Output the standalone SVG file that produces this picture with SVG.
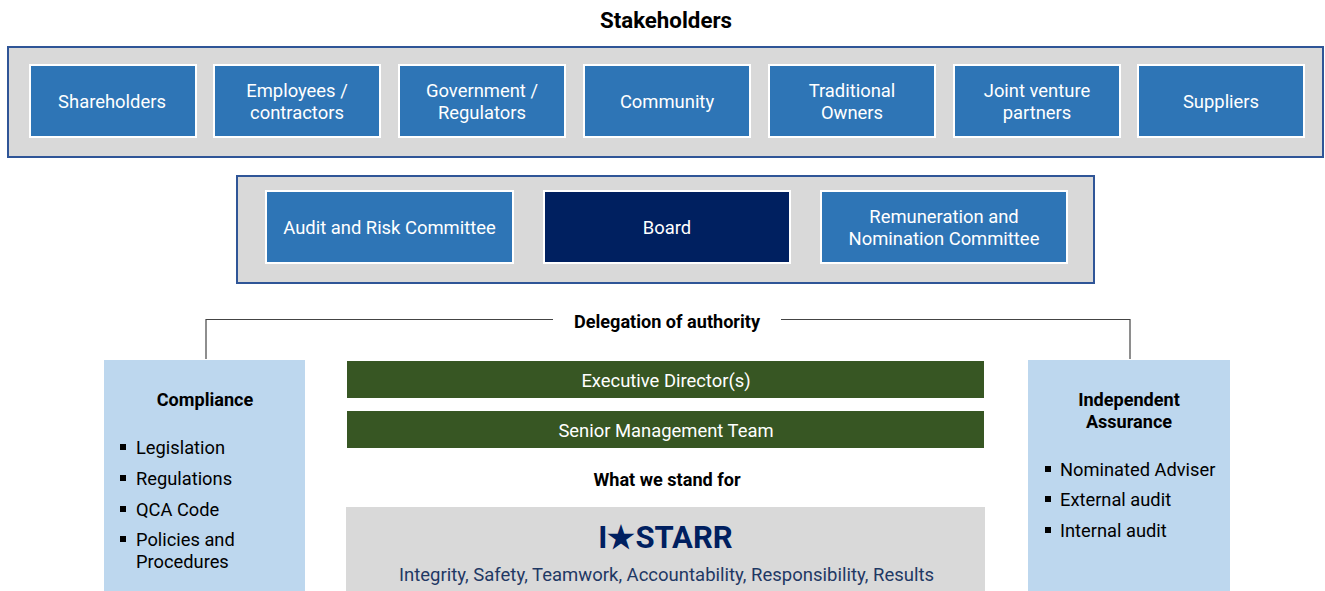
<svg xmlns="http://www.w3.org/2000/svg" width="1325" height="591" viewBox="0 0 1325 591">
  <style>
    text { font-family: Roboto, "Liberation Sans", sans-serif; }
    .panel { fill: #d9d9d9; stroke: #2f5597; stroke-width: 2; }
    .stake { fill: #2e75b6; stroke: #ffffff; stroke-width: 2; }
    .lbl { fill: #ffffff; font-size: 18.4px; text-anchor: middle; }
    .side { fill: #bdd7ee; }
    .bar { fill: #375623; }
    .head { fill: #000000; font-size: 18.1px; font-weight: bold; text-anchor: middle; }
    .item { fill: #000000; font-size: 18.3px; }
    .dot { fill: #000000; }
    .link { fill: none; stroke: #444444; stroke-width: 1.2; }
  </style>
  <rect width="1325" height="591" fill="#ffffff"/>

  <text x="666" y="28" font-size="22.3" font-weight="bold" text-anchor="middle" fill="#000000">Stakeholders</text>

  <!-- stakeholder groups -->
  <g id="stakeholders">
    <rect class="panel" x="8" y="47" width="1315" height="110"/>
    <g id="shareholders">
      <rect class="stake" x="30" y="65" width="166" height="72"/>
      <text class="lbl" x="112" y="107.5">Shareholders</text>
    </g>
    <g id="employees">
      <rect class="stake" x="214" y="65" width="166" height="72"/>
      <text class="lbl" x="297" y="96.5">Employees /</text>
      <text class="lbl" x="297" y="118.5">contractors</text>
    </g>
    <g id="government">
      <rect class="stake" x="399" y="65" width="166" height="72"/>
      <text class="lbl" x="482" y="96.5">Government /</text>
      <text class="lbl" x="482" y="118.5">Regulators</text>
    </g>
    <g id="community">
      <rect class="stake" x="584" y="65" width="166" height="72"/>
      <text class="lbl" x="667" y="107.5">Community</text>
    </g>
    <g id="traditional-owners">
      <rect class="stake" x="769" y="65" width="166" height="72"/>
      <text class="lbl" x="852" y="96.5">Traditional</text>
      <text class="lbl" x="852" y="118.5">Owners</text>
    </g>
    <g id="jv-partners">
      <rect class="stake" x="954" y="65" width="166" height="72"/>
      <text class="lbl" x="1037" y="96.5">Joint venture</text>
      <text class="lbl" x="1037" y="118.5">partners</text>
    </g>
    <g id="suppliers">
      <rect class="stake" x="1138" y="65" width="166" height="72"/>
      <text class="lbl" x="1221" y="107.5">Suppliers</text>
    </g>
  </g>

  <!-- board and committees -->
  <g id="governance">
    <rect class="panel" x="237" y="176" width="857" height="107"/>
    <g id="audit-risk">
      <rect class="stake" x="266" y="191" width="247" height="72"/>
      <text class="lbl" x="389.5" y="233.5">Audit and Risk Committee</text>
    </g>
    <g id="board">
      <rect x="544" y="191" width="246" height="72" fill="#002060" stroke="#ffffff" stroke-width="2"/>
      <text class="lbl" x="667" y="233.5">Board</text>
    </g>
    <g id="remuneration">
      <rect class="stake" x="821" y="191" width="246" height="72"/>
      <text class="lbl" x="944" y="222.5">Remuneration and</text>
      <text class="lbl" x="944" y="244.5">Nomination Committee</text>
    </g>
  </g>

  <!-- delegation bracket -->
  <g id="connectors">
    <polyline class="link" points="206,359 206,319.5 553,319.5"/>
    <polyline class="link" points="781,319.5 1130,319.5 1130,359"/>
  </g>
  <text class="head" x="667" y="328">Delegation of authority</text>

  <!-- compliance -->
  <g id="compliance">
    <rect class="side" x="104" y="360" width="201" height="231"/>
    <text class="head" x="205" y="406">Compliance</text>
    <rect class="dot" x="120" y="444" width="6" height="6"/>
    <text class="item" x="136" y="454">Legislation</text>
    <rect class="dot" x="120" y="475" width="6" height="6"/>
    <text class="item" x="136" y="485">Regulations</text>
    <rect class="dot" x="120" y="506" width="6" height="6"/>
    <text class="item" x="136" y="516">QCA Code</text>
    <rect class="dot" x="120" y="536" width="6" height="6"/>
    <text class="item" x="136" y="546">Policies and</text>
    <text class="item" x="136" y="568">Procedures</text>
  </g>

  <!-- management -->
  <g id="executive-directors">
    <rect class="bar" x="347" y="361" width="637" height="37"/>
    <text class="lbl" x="666" y="386.5">Executive Director(s)</text>
  </g>
  <g id="senior-management">
    <rect class="bar" x="347" y="411" width="637" height="37"/>
    <text class="lbl" x="666" y="436.5">Senior Management Team</text>
  </g>

  <!-- values -->
  <g id="values">
    <text class="head" x="667" y="486">What we stand for</text>
    <rect x="346" y="507" width="639" height="84" fill="#d9d9d9"/>
    <text x="665.5" y="547.5" font-size="31" font-weight="bold" text-anchor="middle" fill="#002060">I★STARR</text>
    <text x="666.5" y="580.5" font-size="18.5" text-anchor="middle" fill="#1f3864">Integrity, Safety, Teamwork, Accountability, Responsibility, Results</text>
  </g>

  <!-- independent assurance -->
  <g id="independent-assurance">
    <rect class="side" x="1028" y="360" width="202" height="231"/>
    <text class="head" x="1129" y="406">Independent</text>
    <text class="head" x="1129" y="428">Assurance</text>
    <rect class="dot" x="1045" y="466" width="6" height="6"/>
    <text class="item" x="1060" y="476">Nominated Adviser</text>
    <rect class="dot" x="1045" y="496" width="6" height="6"/>
    <text class="item" x="1060" y="506">External audit</text>
    <rect class="dot" x="1045" y="527" width="6" height="6"/>
    <text class="item" x="1060" y="537">Internal audit</text>
  </g>
</svg>
